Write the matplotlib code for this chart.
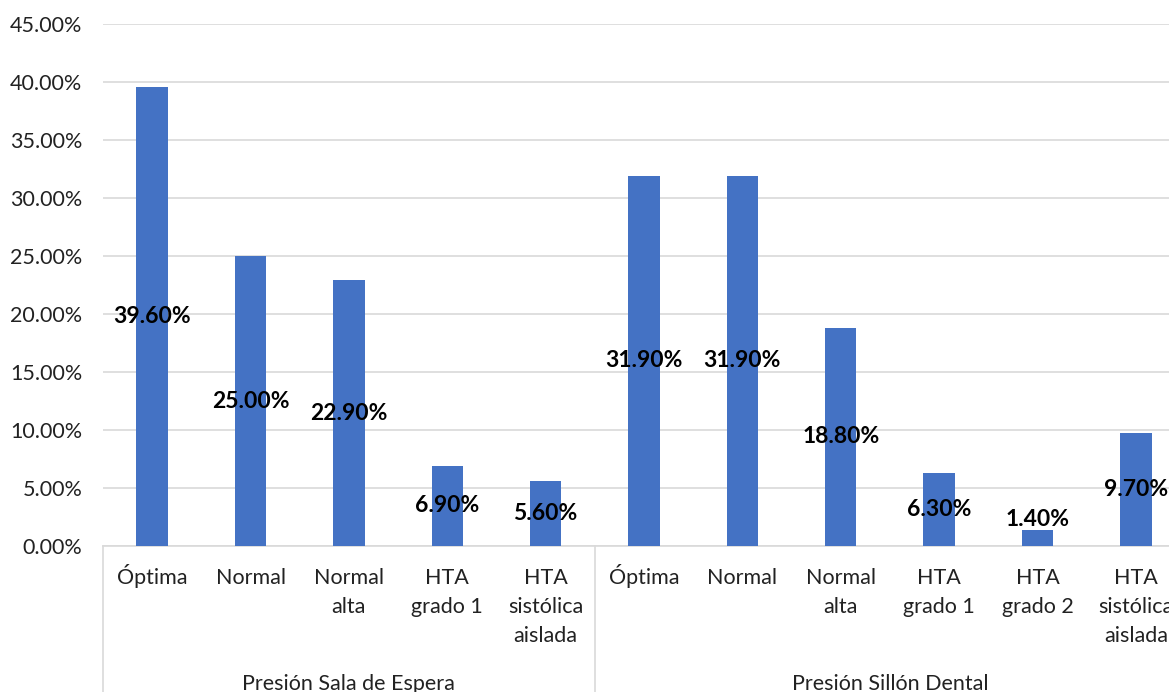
import matplotlib
matplotlib.use("Agg")
import matplotlib.pyplot as plt
import matplotlib.transforms as mtransforms

plt.rcParams['font.family'] = ['Lato', 'DejaVu Sans']

# datos de presion arterial por lugar de medicion
groups = ['Presión Sala de Espera', 'Presión Sillón Dental']
cats_espera = ['Óptima', 'Normal', 'Normal\nalta', 'HTA\ngrado 1', 'HTA\nsistólica\naislada']
cats_sillon = ['Óptima', 'Normal', 'Normal\nalta', 'HTA\ngrado 1', 'HTA\ngrado 2', 'HTA\nsistólica\naislada']
vals_espera = [39.6, 25.0, 22.9, 6.9, 5.6]
vals_sillon = [31.9, 31.9, 18.8, 6.3, 1.4, 9.7]

cats = cats_espera + cats_sillon
vals = vals_espera + vals_sillon
x = list(range(len(cats)))

W, H = 1169, 692
ax_top, ax_bot = 24, 546
fig = plt.figure(figsize=(W / 100, H / 100), dpi=100)
ax = fig.add_axes([103 / W, (H - ax_bot) / H, 1082 / W, (ax_bot - ax_top) / H])

def px_to_axes(ypx):
    # posicion vertical en pixeles (desde arriba) a fraccion de ejes
    return (ax_bot - ypx) / (ax_bot - ax_top)

ax.bar(x, vals, width=0.32, color='#4472C4', zorder=3)

# etiquetas en el centro de cada barra
for xi, v in zip(x, vals):
    ax.text(xi, max(v / 2, 2.3), f'{v:.2f}%', ha='center', va='center',
            fontsize=16.5, fontweight='bold', color='black', zorder=4)

ax.set_xlim(-0.5, len(cats) - 0.5)
ax.set_ylim(0, 45)
ax.set_yticks(range(0, 46, 5))
ax.set_yticklabels([f'{t:.2f}%' for t in range(0, 46, 5)], fontsize=15.5, color='#222222')
ax.yaxis.grid(True, color='#d9d9d9', linewidth=1.2, zorder=0)
ax.tick_params(axis='y', length=0, pad=15)

ax.set_xticks([])

for s in ['top', 'right', 'left']:
    ax.spines[s].set_visible(False)
ax.spines['bottom'].set_color('#d9d9d9')
ax.spines['bottom'].set_linewidth(1.2)

trans = mtransforms.blended_transform_factory(ax.transData, ax.transAxes)

# nombres de categoria, linea por linea con la misma base
for xi, c in zip(x, cats):
    for i, line in enumerate(c.split('\n')):
        ax.text(xi, px_to_axes(584 + 29 * i), line, transform=trans, ha='center',
                va='baseline', fontsize=15.5, color='#222222')

# lineas separadoras y nombres de grupo
n1 = len(cats_espera)
for sep in [-0.5, n1 - 0.5, len(cats) - 0.5]:
    ax.plot([sep, sep], [0, px_to_axes(H + 2)], color='#d9d9d9', linewidth=1.2,
            transform=trans, clip_on=False)
ax.text((n1 - 1) / 2, px_to_axes(690), groups[0], transform=trans, ha='center',
        va='baseline', fontsize=15.5, color='#222222')
ax.text(n1 + (len(cats_sillon) - 1) / 2, px_to_axes(690), groups[1], transform=trans,
        ha='center', va='baseline', fontsize=15.5, color='#222222')

fig.savefig('out.png', dpi=100)
